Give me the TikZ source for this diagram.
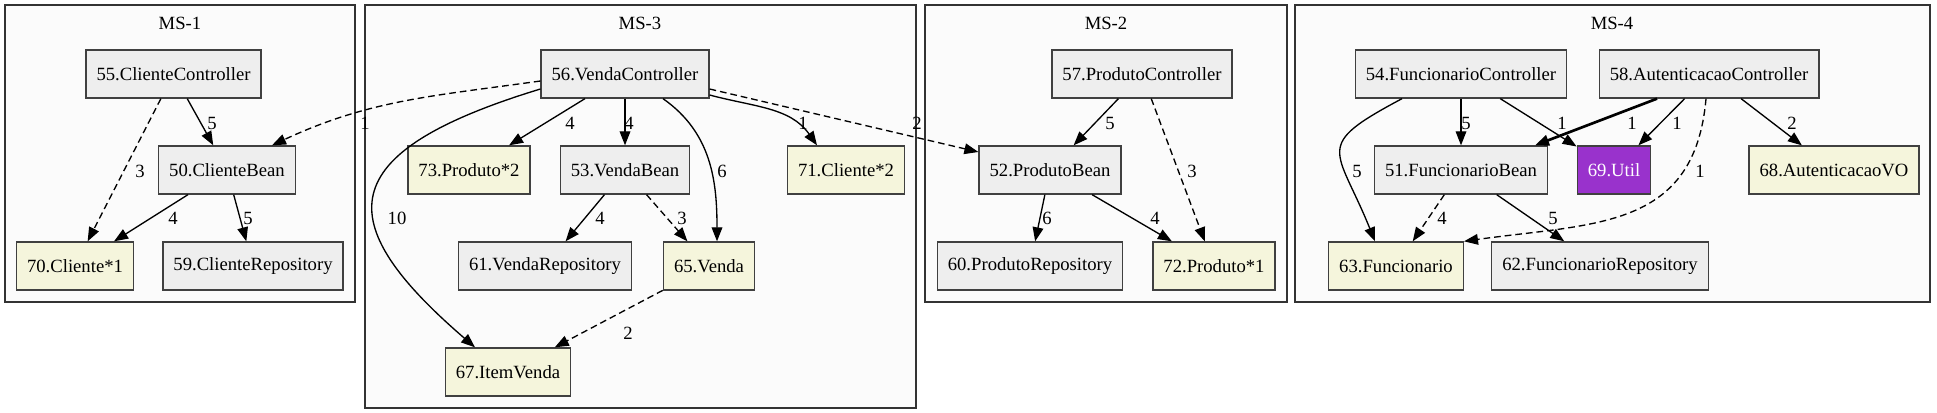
\documentclass[tikz,border=0pt]{standalone}
\usepackage{fontspec}
\setmainfont{Liberation Serif}
\usetikzlibrary{arrows.meta, calc}
\definecolor{beangray}{HTML}{EEEEEE}
\definecolor{entbeige}{HTML}{F5F5DC}
\definecolor{utilpurple}{HTML}{9932CC}
\definecolor{boxline}{HTML}{404040}
\definecolor{groupbg}{HTML}{FBFBFB}

\begin{document}
\begin{tikzpicture}[x=0.75pt, y=0.75pt,
    every node/.style={font=\fontsize{14pt}{16pt}\selectfont},
    cls/.style={draw=boxline, line width=1pt, fill=beangray, minimum height=36pt, minimum width=54pt, inner xsep=7.92pt, inner ysep=0pt},
    ent/.style={cls, fill=entbeige},
    utl/.style={cls, fill=utilpurple, text=white},
    grp/.style={draw=black!80, line width=1pt, fill=groupbg},
    dep/.style={-{Triangle[length=10.5pt, width=8pt]}, line width=1pt},
    dyn/.style={dep, dash pattern=on 5pt off 3pt},
    lbl/.style={inner sep=0pt}]
  \useasboundingbox (0,0) rectangle (1937,413);
  % microservice groups
  \draw[grp] (5,111) rectangle (355,408);
  \draw[grp] (365,5) rectangle (916,408);
  \draw[grp] (925,111) rectangle (1287,408);
  \draw[grp] (1295,111) rectangle (1930,408);
  \node (ms1) at (180,390) {MS-1};
  \node (ms3) at (640,390) {MS-3};
  \node (ms2) at (1106,390) {MS-2};
  \node (ms4) at (1612,390) {MS-4};
  % MS-1
  \node[cls] (cc) at (173.5,339) {55.ClienteController};
  \node[cls] (cb) at (227,243) {50.ClienteBean};
  \node[ent] (c1) at (75,147) {70.Cliente*1};
  \node[cls] (cr) at (253,147) {59.ClienteRepository};
  % MS-3
  \node[cls] (vc) at (625,339) {56.VendaController};
  \node[ent] (p2) at (469,243) {73.Produto*2};
  \node[cls] (vb) at (625,243) {53.VendaBean};
  \node[ent] (c2) at (846,243) {71.Cliente*2};
  \node[cls] (vr) at (545,147) {61.VendaRepository};
  \node[ent] (ve) at (709,147) {65.Venda};
  \node[ent] (iv) at (508,41) {67.ItemVenda};
  % MS-2
  \node[cls] (pc) at (1142,339) {57.ProdutoController};
  \node[cls] (pb) at (1050,243) {52.ProdutoBean};
  \node[cls] (pr) at (1030,147) {60.ProdutoRepository};
  \node[ent] (p1) at (1214,147) {72.Produto*1};
  % MS-4
  \node[cls] (fc) at (1461,339) {54.FuncionarioController};
  \node[cls] (ac) at (1709,339) {58.AutenticacaoController};
  \node[cls] (fb) at (1461,243) {51.FuncionarioBean};
  \node[utl] (ut) at (1614,243) {69.Util};
  \node[ent] (vo) at (1834,243) {68.AutenticacaoVO};
  \node[ent] (fu) at (1396,147) {63.Funcionario};
  \node[cls] (fr) at (1600,147) {62.FuncionarioRepository};

  \draw[dep] (cc) -- (cb) node[lbl] at (212,290) {5};
  \draw[dyn] (cc) -- (c1) node[lbl] at (140,242) {3};
  \draw[dep] (cb) -- (c1) node[lbl] at (173,195) {4};
  \draw[dep] (cb) -- (cr) node[lbl] at (248,195) {5};

  \draw[dyn] ($(vc.west)+(0,-7)$) to[out=188, in=25] ($(cb.north)+(45,0)$) node[lbl] at (365,290) {1};
  \draw[dep] (vc) -- (p2) node[lbl] at (570,290) {4};
  \draw[dep] (vc) -- (vb) node[lbl] at (629,290) {4};
  \draw[dep] ($(vc.west)+(0,-15)$) .. controls +(-210,-64) and +(-145,125) .. ($(iv.north)+(-33,0)$) node[lbl] at (397,195) {10};
  \draw[dep] ($(vc.south)+(38,0)$) to[out=-35, in=90] ($(ve.north)+(8,0)$) node[lbl] at (722,242) {6};
  \draw[dep] ($(vc.east)+(0,-21)$) to[out=-15, in=125] ($(c2.north)+(-29,0)$) node[lbl] at (803,290) {1};
  \draw[dyn] ($(vc.east)+(0,-15)$) -- ($(pb.west)+(0,18)$) node[lbl] at (917,290) {2};
  \draw[dep] (vb) -- (vr) node[lbl] at (600,195) {4};
  \draw[dyn] (vb) -- (ve) node[lbl] at (682,195) {3};
  \draw[dyn] (ve) -- (iv) node[lbl] at (628,80) {2};

  \draw[dep] (pc) -- (pb) node[lbl] at (1110,290) {5};
  \draw[dyn] (pc) -- (p1) node[lbl] at (1192,242) {3};
  \draw[dep] (pb) -- (pr) node[lbl] at (1047,195) {6};
  \draw[dep] (pb) -- (p1) node[lbl] at (1155,195) {4};

  \draw[dep] ($(fc.south)+(-59,0)$) to[out=208, in=112, looseness=1.8] ($(fu.north)+(-21,0)$) node[lbl] at (1357,242) {5};
  \draw[dep] (fc) -- (fb) node[lbl] at (1466,290) {5};
  \draw[dep] (fc) -- (ut) node[lbl] at (1562,290) {1};
  \draw[dep, line width=2pt] ($(ac.south)+(-52,0)$) -- ($(fb.north)+(74,0)$) node[lbl] at (1632,290) {1};
  \draw[dep] (ac) -- (ut) node[lbl] at (1677,290) {1};
  \draw[dep] (ac) -- (vo) node[lbl] at (1792,290) {2};
  \draw[dyn] ($(ac.south)+(-3,0)$) to[out=-95, in=8, looseness=1.2] (fu.north east) node[lbl] at (1700,242) {1};
  \draw[dyn] (fb) -- (fu) node[lbl] at (1442,195) {4};
  \draw[dep] (fb) -- (fr) node[lbl] at (1553,195) {5};
\end{tikzpicture}
\end{document}
